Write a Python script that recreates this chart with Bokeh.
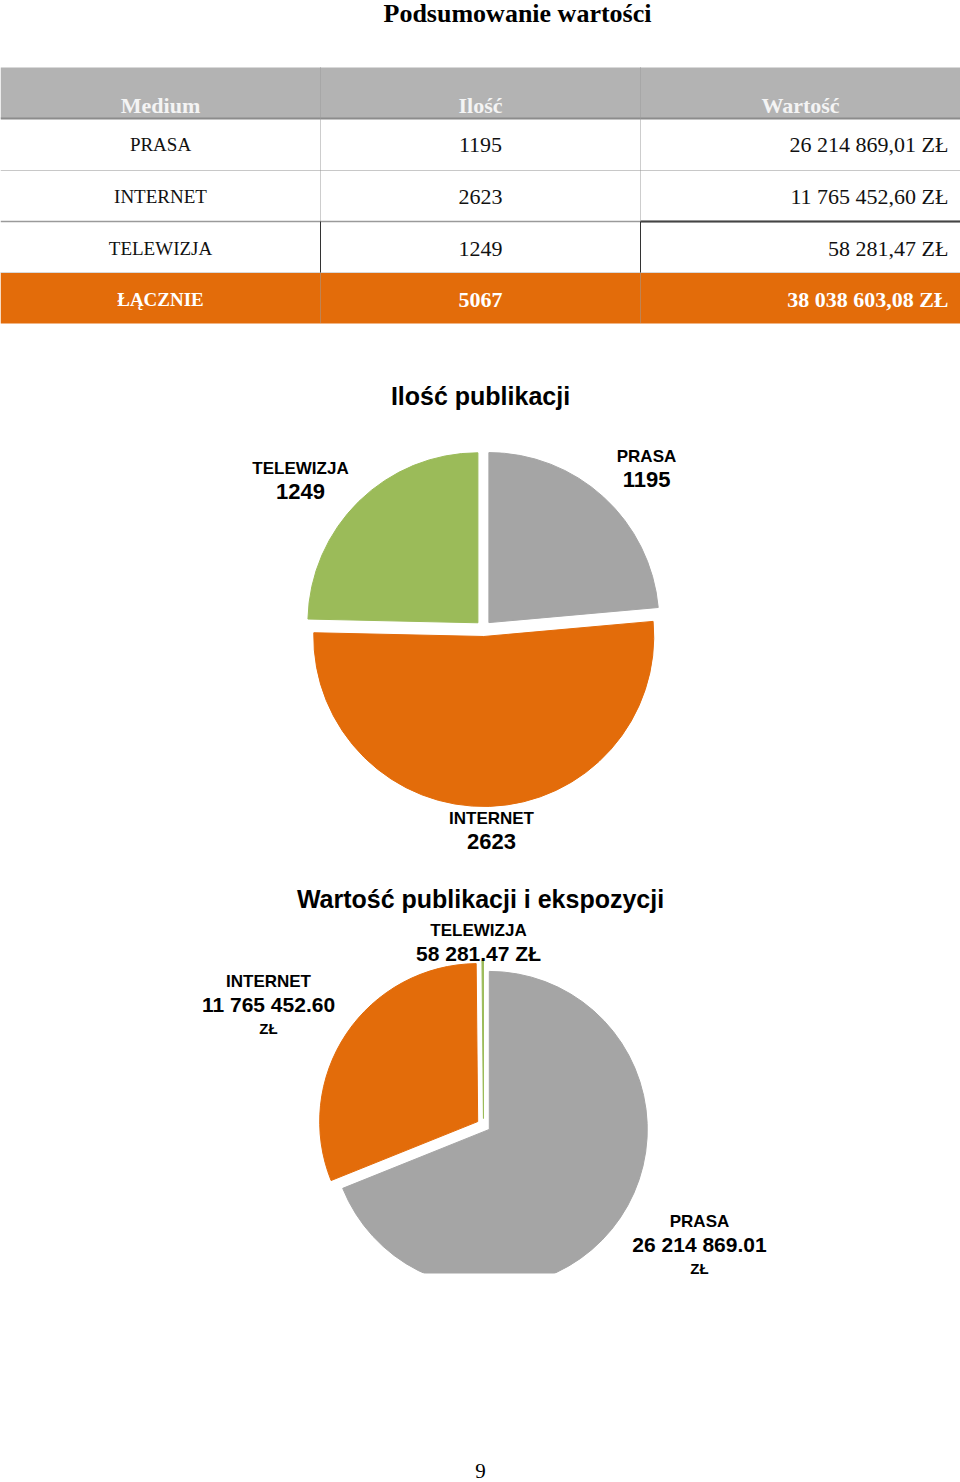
import numpy as np
from bokeh.plotting import figure
from bokeh.models import Range1d, ColumnDataSource
from bokeh.core.properties import value
from bokeh.embed import file_html
from bokeh.resources import INLINE

# ---------------- data ----------------
media = ["Prasa", "Internet", "Telewizja"]
media_caps = ["PRASA", "INTERNET", "TELEWIZJA"]
ilosc = [1195, 2623, 1249]
wartosc = [26214869.01, 11765452.60, 58281.47]
wartosc_tab = ["26 214 869,01 ZŁ", "11 765 452,60 ZŁ", "58 281,47 ZŁ"]
total_label = "ŁĄCZNIE"
total_ilosc = "5067"
total_wartosc = "38 038 603,08 ZŁ"
headers = ["Medium", "Ilość", "Wartość"]
pie1_value_labels = ["1195", "2623", "1249"]
pie2_value_labels = [["26 214 869.01", "ZŁ"], ["11 765 452.60", "ZŁ"], ["58 281.47 ZŁ"]]
colors = ["#a5a5a5", "#e36c0a", "#9bbb59"]

W, H = 960, 1482
def Y(yp):
    return H - yp

p = figure(width=W, height=H, x_range=Range1d(0, W), y_range=Range1d(0, H),
           output_backend="svg", toolbar_location=None, min_border=0,
           x_axis_type=None, y_axis_type=None)
p.grid.visible = False
p.outline_line_color = None
p.background_fill_color = "white"
p.border_fill_color = "white"

SERIF = value("Liberation Serif")
SANS = value("Liberation Sans")

# ---------------- page title ----------------
p.text(x=[517], y=[Y(13)], text=["Podsumowanie wartości"], text_font=SERIF,
       text_font_size="26px", text_font_style="bold", text_align="center",
       text_baseline="middle", text_color="black")

# ---------------- table ----------------
p.quad(left=[0], right=[W], top=[Y(67)], bottom=[Y(118)], fill_color="#b3b3b3", line_color=None)
p.quad(left=[0], right=[W], top=[Y(272)], bottom=[Y(323)], fill_color="#e36c0a", line_color=None)
# horizontal rules
p.segment(x0=[0], y0=[Y(118)], x1=[W], y1=[Y(118)], line_color="#8c8c8c", line_width=2)
p.segment(x0=[0], y0=[Y(170)], x1=[W], y1=[Y(170)], line_color="#c8c8c8", line_width=1)
p.segment(x0=[0], y0=[Y(221)], x1=[W], y1=[Y(221)], line_color="#9a9a9a", line_width=1.5)
p.segment(x0=[640], y0=[Y(221)], x1=[W], y1=[Y(221)], line_color="#444444", line_width=2)
p.segment(x0=[0], y0=[Y(272)], x1=[W], y1=[Y(272)], line_color="#d9d9d9", line_width=1)
# vertical dividers
for xv in [320, 640]:
    p.segment(x0=[xv], y0=[Y(67)], x1=[xv], y1=[Y(323)], line_color="#9a9a9a",
              line_width=1, line_dash="1 1")
    p.segment(x0=[xv], y0=[Y(221)], x1=[xv], y1=[Y(272)], line_color="#333333", line_width=1)

col_x = [160, 480, 800]
p.text(x=col_x, y=[Y(105)] * 3, text=headers, text_font=SERIF, text_font_size="22px",
       text_font_style="bold", text_align="center", text_baseline="middle", text_color="#f4f4f4")
row_y = [Y(144), Y(196), Y(248)]
p.text(x=[160] * 3, y=row_y, text=media_caps, text_font=SERIF, text_font_size="19px",
       text_align="center", text_baseline="middle", text_color="#111111")
p.text(x=[480] * 3, y=row_y, text=[str(v) for v in ilosc], text_font=SERIF, text_font_size="22px",
       text_align="center", text_baseline="middle", text_color="#111111")
p.text(x=[948] * 3, y=row_y, text=wartosc_tab, text_font=SERIF, text_font_size="22px",
       text_align="right", text_baseline="middle", text_color="#111111")
p.text(x=[160], y=[Y(299)], text=[total_label], text_font=SERIF, text_font_size="19px",
       text_font_style="bold", text_align="center", text_baseline="middle", text_color="white")
p.text(x=[480], y=[Y(299)], text=[total_ilosc], text_font=SERIF, text_font_size="22px",
       text_font_style="bold", text_align="center", text_baseline="middle", text_color="white")
p.text(x=[948], y=[Y(299)], text=[total_wartosc], text_font=SERIF, text_font_size="22px",
       text_font_style="bold", text_align="right", text_baseline="middle", text_color="white")

# ---------------- pies ----------------
def pie(vals, cx, cy, r, explode):
    vals = np.asarray(vals, dtype=float)
    frac = vals / vals.sum()
    cum = np.concatenate([[0], np.cumsum(frac)])
    start = np.pi / 2 - 2 * np.pi * cum[:-1]
    end = np.pi / 2 - 2 * np.pi * cum[1:]
    mid = (start + end) / 2
    src = ColumnDataSource(dict(
        x=cx + explode * np.cos(mid), y=cy + explode * np.sin(mid),
        start=start, end=end, color=colors, name=media))
    p.wedge(x="x", y="y", radius=r, start_angle="start", end_angle="end",
            direction="clock", fill_color="color", line_color="color", line_width=1, source=src)

# Pie 1 - Ilość publikacji
p.text(x=[480], y=[Y(395)], text=["Ilość publikacji"], text_font=SANS, text_font_size="25px",
       text_font_style="bold", text_align="center", text_baseline="middle", text_color="black")
pie(ilosc, 483, Y(628), 170, 8)

lab1 = {"PRASA": (646, 456), "INTERNET": (491, 818), "TELEWIZJA": (300, 468)}
for name, val in zip(media_caps, pie1_value_labels):
    lx, ly = lab1[name]
    p.text(x=[lx], y=[Y(ly)], text=[name], text_font=SANS, text_font_size="17px",
           text_font_style="bold", text_align="center", text_baseline="middle", text_color="black")
    p.text(x=[lx], y=[Y(ly + 23)], text=[val], text_font=SANS, text_font_size="22px",
           text_font_style="bold", text_align="center", text_baseline="middle", text_color="black")

# Pie 2 - Wartość publikacji i ekspozycji
pie(wartosc, 483, Y(1125), 158, 7)
# crop of the bottom of the chart image
p.quad(left=[0], right=[W], top=[Y(1273)], bottom=[0], fill_color="white", line_color=None)
p.text(x=[480], y=[Y(898)], text=["Wartość publikacji i ekspozycji"], text_font=SANS,
       text_font_size="25px", text_font_style="bold", text_align="center",
       text_baseline="middle", text_color="black")

lab2 = {"PRASA": (699, 1221), "INTERNET": (268, 981), "TELEWIZJA": (478, 930)}
for name, lines in zip(media_caps, pie2_value_labels):
    lx, ly = lab2[name]
    p.text(x=[lx], y=[Y(ly)], text=[name], text_font=SANS, text_font_size="17px",
           text_font_style="bold", text_align="center", text_baseline="middle", text_color="black")
    for i, ln in enumerate(lines):
        sz = "21px" if i == 0 else "15px"
        p.text(x=[lx], y=[Y(ly + 23 + 24 * i)], text=[ln], text_font=SANS, text_font_size=sz,
               text_font_style="bold", text_align="center", text_baseline="middle", text_color="black")

# page number
p.text(x=[480], y=[Y(1470)], text=["9"], text_font=SERIF, text_font_size="21px",
       text_align="center", text_baseline="middle", text_color="black")

open("out.html", "w").write(file_html(p, INLINE))
